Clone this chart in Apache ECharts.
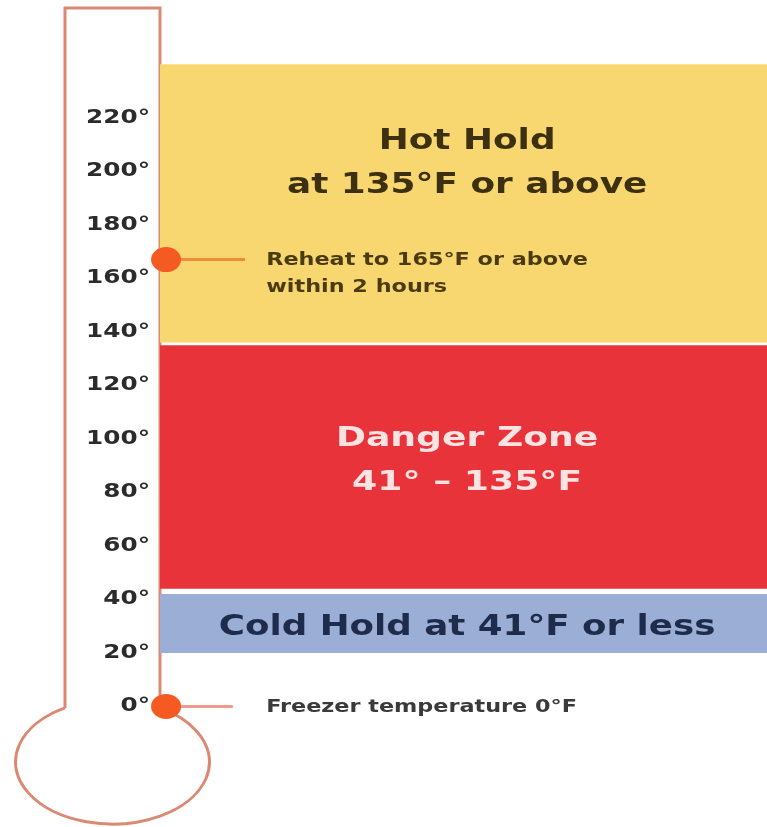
<!DOCTYPE html>
<html>
<head>
    <meta charset="UTF-8">
    <title>food temperature zones</title>
    <script src="https://cdn.jsdelivr.net/npm/echarts@6/dist/echarts.min.js"></script>
    <style>
        body, html {
            margin: 0;
            padding: 0;
            height: 100%;
            width: 100%;
            background: #fff;
        }

        #chart {
            width: 767px;
            height: 827px;
        }
    </style>
</head>
<body>
<div id="chart"></div>
<script>
    // temperature scale (°F)
    var tickMin = -40;
    var tickMax = 261;          // top of the thermometer tube
    var tickValues = [0, 20, 40, 60, 80, 100, 120, 140, 160, 180, 200, 220];
    var tickLabels = ['0°', '20°', '40°', '60°', '80°', '100°', '120°', '140°', '160°', '180°', '200°', '220°'];

    // zones, bottom to top
    var zoneLow = [20, 44, 136];
    var zoneHigh = [42, 135, 240];
    var zoneTextAt = [30, 92, 203];
    var zoneText = ['Cold Hold at 41°F or less', 'Danger Zone\n41° – 135°F', 'Hot Hold\nat 135°F or above'];

    // markers on the thermometer
    var markerTemp = [167, 0];
    var markerNote = ['Reheat to 165°F or above\nwithin 2 hours', 'Freezer temperature 0°F'];

    var zoneFill = ['#9aaed6', '#e9333a', '#f8d770'];
    var zoneInk = ['#1f2b4a', '#fde4e2', '#3d3010'];
    var zoneFont = [29, 27, 28];
    var zoneStretch = [1.23, 1.34, 1.28];
    var noteInk = ['#4a3b12', '#3a3a3a'];
    var noteFont = [18, 18];
    var noteStretch = [1.24, 1.24];
    var leaderColor = ['#f08c3a', '#ef9a8c'];
    var leaderEnd = [14, 12];

    var chart = echarts.init(document.getElementById('chart'), null, {renderer: 'canvas'});

    var zoneData = zoneLow.map(function (v, i) {
        return [zoneLow[i], zoneHigh[i], zoneTextAt[i], i];
    });
    var markerData = markerTemp.map(function (v, i) {
        return [1, v, i];
    });
    var tickData = tickValues.map(function (v, i) {
        return [0, v, i];
    });

    var option = {
        animation: false,
        grid: {left: 160, right: 0, top: 8, bottom: 13.5},
        xAxis: {type: 'value', min: 0, max: 100, show: false},
        yAxis: {
            type: 'value',
            min: tickMin,
            max: tickMax,
            interval: 20,
            axisLine: {show: false},
            axisTick: {show: false},
            splitLine: {show: false},
            axisLabel: {show: false}
        },
        series: [
            {
                // thermometer outline
                type: 'custom',
                clip: false,
                silent: true,
                data: [[tickMax, 0]],
                renderItem: function (params, api) {
                    var top = api.coord([0, api.value(0)]);
                    var bot = api.coord([0, api.value(1)]);
                    var xr = params.coordSys.x;
                    var xl = xr - 95;
                    var yb = bot[1] + 1.5;
                    var stroke = {stroke: '#da8a72', lineWidth: 3, fill: null};
                    return {
                        type: 'group',
                        children: [
                            {type: 'polyline', shape: {points: [[xl, yb], [xl, top[1]], [xr, top[1]], [xr, yb]]}, style: stroke},
                            {
                                type: 'path',
                                shape: {pathData: 'M' + xl + ' ' + yb + ' A 97 62 0 1 0 ' + xr + ' ' + yb},
                                style: stroke
                            }
                        ]
                    };
                }
            },
            {
                // tick labels inside the tube
                type: 'custom',
                clip: false,
                silent: true,
                data: tickData,
                renderItem: function (params, api) {
                    var p = api.coord([0, api.value(1)]);
                    return {
                        type: 'text',
                        x: p[0] - 10, y: p[1],
                        scaleX: 1.3,
                        style: {
                            text: tickLabels[api.value(2)],
                            fill: '#2b2b2b',
                            font: 'bold 19px "DejaVu Sans"',
                            align: 'right',
                            verticalAlign: 'middle'
                        }
                    };
                }
            },
            {
                type: 'custom',
                silent: true,
                data: zoneData,
                renderItem: function (params, api) {
                    var i = api.value(3);
                    var p1 = api.coord([0, api.value(1)]);
                    var p2 = api.coord([100, api.value(0)]);
                    var pt = api.coord([50.6, api.value(2)]);
                    return {
                        type: 'group',
                        children: [
                            {
                                type: 'rect',
                                shape: {x: p1[0], y: p1[1], width: p2[0] - p1[0], height: p2[1] - p1[1]},
                                style: {fill: zoneFill[i]}
                            },
                            {
                                type: 'text',
                                x: pt[0], y: pt[1] + 1,
                                scaleX: zoneStretch[i],
                                style: {
                                    text: zoneText[i],
                                    fill: zoneInk[i],
                                    font: 'bold ' + zoneFont[i] + 'px "DejaVu Sans"',
                                    lineHeight: 44,
                                    align: 'center',
                                    verticalAlign: 'middle'
                                }
                            }
                        ]
                    };
                }
            },
            {
                // leader lines and notes
                type: 'custom',
                silent: true,
                clip: false,
                data: markerData,
                renderItem: function (params, api) {
                    var i = api.value(2);
                    var p = api.coord([api.value(0), api.value(1)]);
                    var e = api.coord([leaderEnd[i], api.value(1)]);
                    var t = api.coord([17.5, api.value(1)]);
                    return {
                        type: 'group',
                        children: [
                            {type: 'line', shape: {x1: p[0], y1: p[1], x2: e[0], y2: e[1]}, style: {stroke: leaderColor[i], lineWidth: 3}},
                            {
                                type: 'text',
                                x: t[0], y: p[1] - 13,
                                scaleX: noteStretch[i],
                                style: {
                                    text: markerNote[i],
                                    fill: noteInk[i],
                                    font: 'bold ' + noteFont[i] + 'px "DejaVu Sans"',
                                    lineHeight: 27,
                                    align: 'left',
                                    verticalAlign: 'top'
                                }
                            }
                        ]
                    };
                }
            },
            {
                type: 'scatter',
                silent: true,
                symbol: 'circle',
                symbolSize: [30, 25],
                itemStyle: {color: '#f55a23', opacity: 1},
                data: markerData.map(function (d) { return [d[0], d[1]]; })
            }
        ]
    };
    chart.setOption(option);
</script>
</body>
</html>
